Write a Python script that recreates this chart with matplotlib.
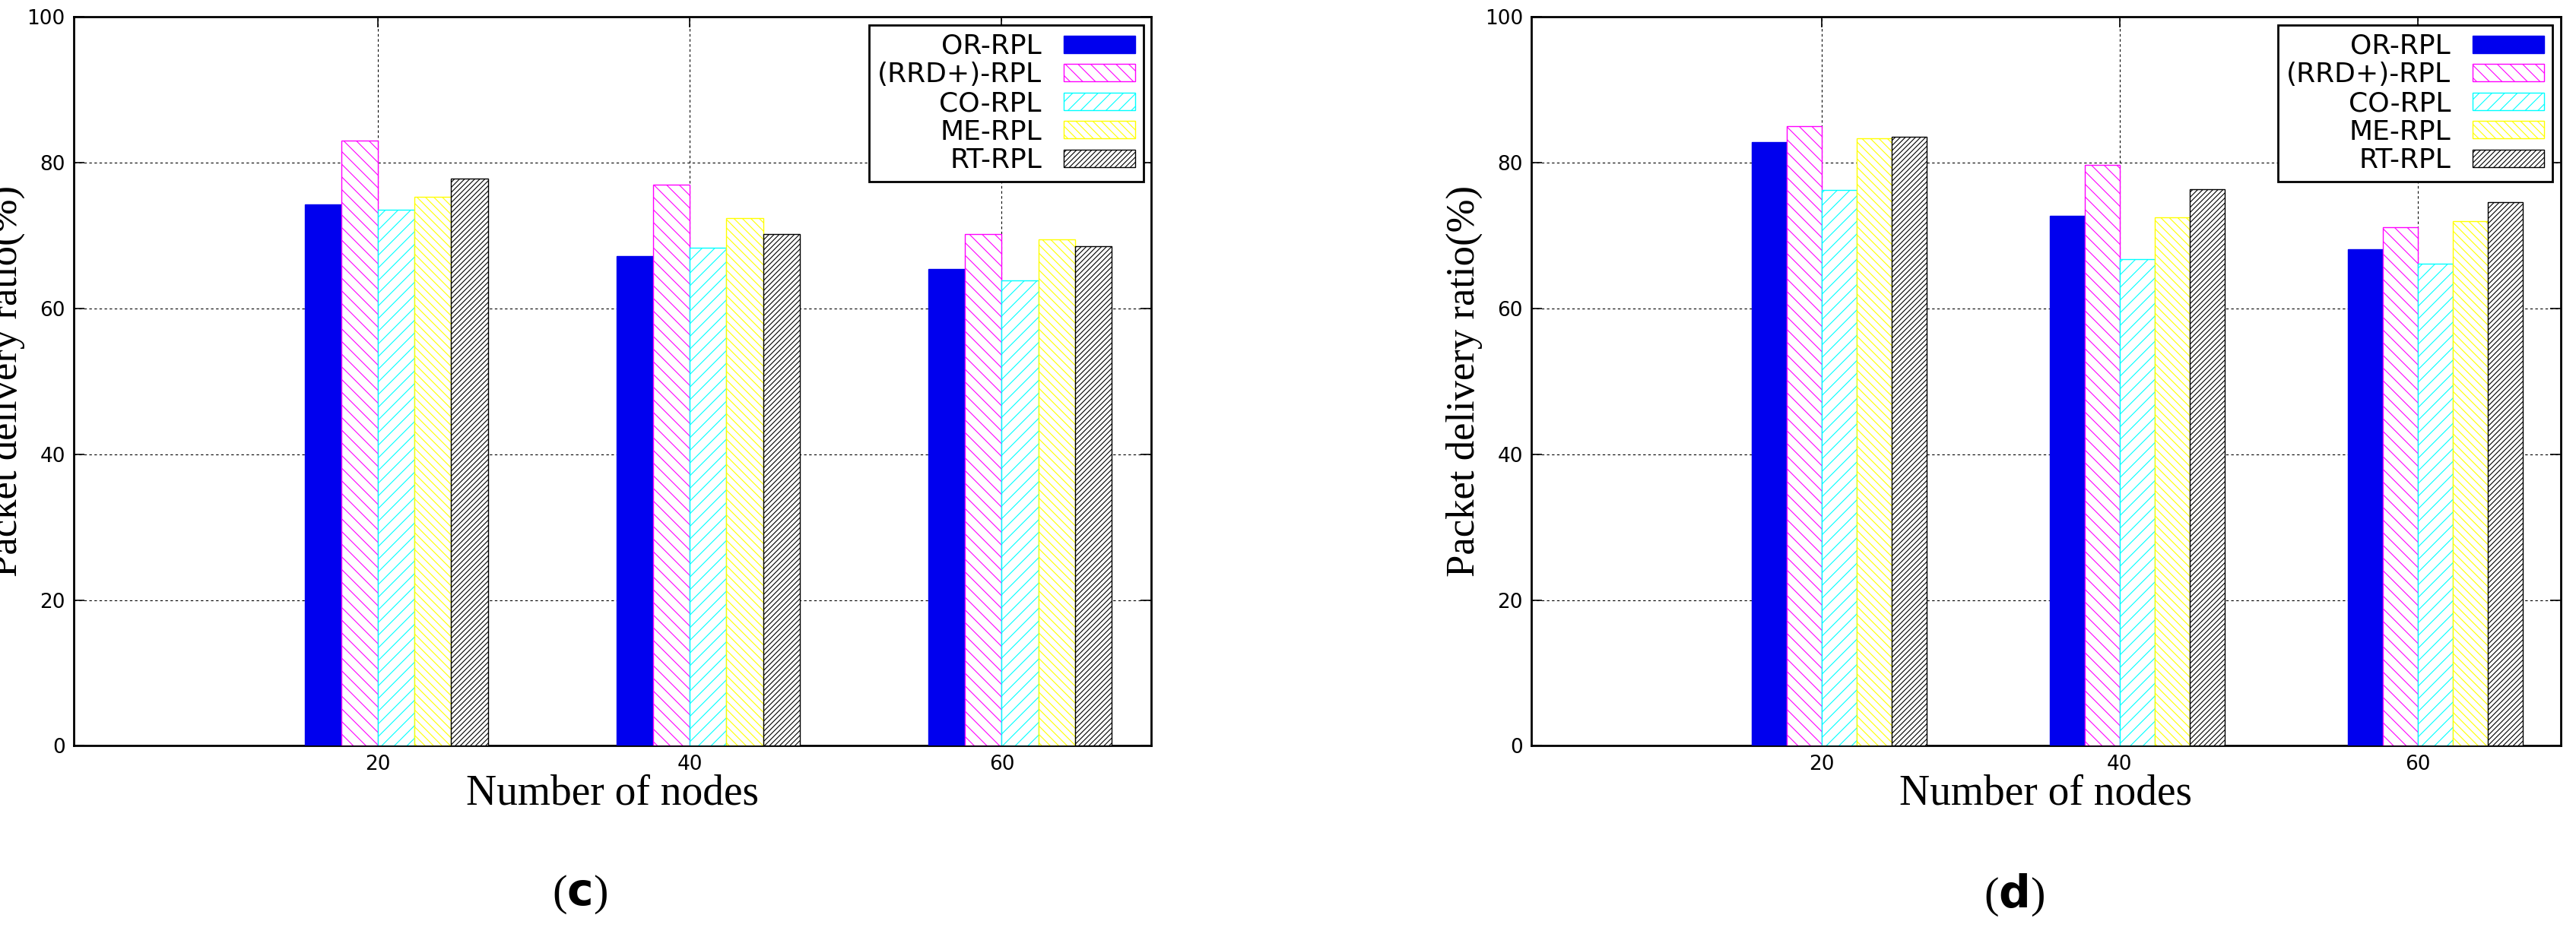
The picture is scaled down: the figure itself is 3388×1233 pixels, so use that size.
import numpy as np
import matplotlib.pyplot as plt

nodes = [20, 40, 60]
names = ['OR-RPL', '(RRD+)-RPL', 'CO-RPL', 'ME-RPL', 'RT-RPL']

pdr_c = [[74.3, 67.2, 65.4],
         [83.0, 77.0, 70.2],
         [73.5, 68.3, 63.8],
         [75.3, 72.4, 69.5],
         [77.8, 70.2, 68.5]]
pdr_d = [[82.8, 72.7, 68.1],
         [85.0, 79.7, 71.1],
         [76.3, 66.8, 66.1],
         [83.3, 72.5, 72.0],
         [83.6, 76.4, 74.6]]

colors = ['#0000ee', '#ff00ff', '#00ffff', '#ffff00', 'black']
hatches = [None, '\\\\', '//', '\\\\\\', '/////']

plt.rcParams['hatch.linewidth'] = 0.8
fig = plt.figure(figsize=(33.88, 12.33), dpi=100)

bar_width = 2.35
x = np.array(nodes, dtype=float)


def draw(ax, data, tag, tag_x):
    for i in range(5):
        if hatches[i] is None:
            ax.bar(x + (i - 2) * bar_width, data[i], bar_width, align='edge',
                   color=colors[i], edgecolor=colors[i], label=names[i], zorder=3)
        else:
            ax.bar(x + (i - 2) * bar_width, data[i], bar_width, align='edge',
                   color='white', edgecolor=colors[i], hatch=hatches[i],
                   linewidth=1, label=names[i], zorder=3)
    ax.set_xlim(0.5, 69.6)
    ax.set_ylim(0, 100)
    ax.set_xticks(nodes)
    ax.set_yticks([0, 20, 40, 60, 80, 100])
    ax.grid(True, linestyle=(0, (3, 3)), color='black', linewidth=0.8, zorder=0)
    ax.tick_params(direction='in', top=True, right=True, length=10, width=1.2,
                   labelsize=19, pad=8)
    for s in ax.spines.values():
        s.set_linewidth(2)
    ax.set_xlabel('Number of nodes', family='Liberation Serif', fontsize=40, labelpad=0)
    ax.set_ylabel('Packet delivery ratio(%)', family='Liberation Serif', fontsize=38, labelpad=2)
    leg = ax.legend(loc='upper right', markerfirst=False, fontsize=26, fancybox=False,
                    framealpha=1, edgecolor='black', handlelength=2.6, handleheight=0.6,
                    labelspacing=0.1, borderaxespad=0.3, borderpad=0.3)
    leg.get_frame().set_linewidth(2)
    fig.text(tag_x, 0.045, tag, ha='center', va='center',
             family='Liberation Serif', fontsize=42)


ax1 = fig.add_axes([0.0286, 0.204, 0.4184, 0.778])
draw(ax1, pdr_c, r'($\mathbf{c}$)', 0.225)
ax2 = fig.add_axes([0.5945, 0.204, 0.3995, 0.778])
draw(ax2, pdr_d, r'($\mathbf{d}$)', 0.782)

fig.savefig('out.png', dpi=100)
